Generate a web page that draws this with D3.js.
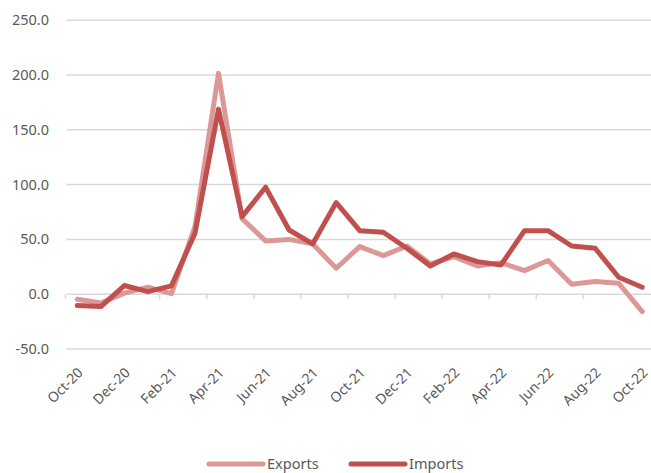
<!DOCTYPE html>
<html>
<head>
<meta charset="utf-8">
<script src="https://cdn.jsdelivr.net/npm/d3@7"></script>
<style>
  body { margin: 0; background: #ffffff; }
  #chart { width: 651px; height: 473px; }
  text { font-family: "Noto Sans", sans-serif; fill: #595959; }
</style>
</head>
<body>
<div id="chart"></div>
<script>
const months = ["Oct-20", "Nov-20", "Dec-20", "Jan-21", "Feb-21", "Mar-21", "Apr-21", "May-21",
  "Jun-21", "Jul-21", "Aug-21", "Sep-21", "Oct-21", "Nov-21", "Dec-21", "Jan-22", "Feb-22",
  "Mar-22", "Apr-22", "May-22", "Jun-22", "Jul-22", "Aug-22", "Sep-22", "Oct-22"];

const exportsVals = [-4.6, -8, 1, 6.4, 0.5, 61.7, 201.5, 69, 48.6, 50, 45.9, 23.7, 43.4, 35.2,
  44, 27.6, 34.3, 25.8, 28.8, 21.5, 30.7, 9.1, 11.5, 10, -15.9];

const importsVals = [-10.4, -11.3, 7.9, 2.4, 7.6, 55.6, 168.8, 70.8, 97.6, 58.6, 45.9, 83.6, 58,
  56.5, 41.9, 25.8, 36.7, 29.7, 26.7, 58, 58, 44, 41.9, 15.5, 6.4];

const yTicks = [-50, 0, 50, 100, 150, 200, 250];

const series = [
  { name: "Exports", values: exportsVals, color: "#dc9797" },
  { name: "Imports", values: importsVals, color: "#c0504d" }
];

const width = 651, height = 473;
const svg = d3.select("#chart").append("svg")
  .attr("width", width)
  .attr("height", height);

// Scales
const x = d3.scaleBand()
  .domain(months)
  .range([65.5, 654]);

const y = d3.scaleLinear()
  .domain([-50, 250])
  .range([349, 20.2]);

const cx = d => x(d) + x.bandwidth() / 2;

// Gridlines
svg.append("g")
  .selectAll("line")
  .data(yTicks)
  .enter()
  .append("line")
  .attr("x1", 66.5)
  .attr("x2", width)
  .attr("y1", d => y(d))
  .attr("y2", d => y(d))
  .attr("stroke", "#d9d9d9")
  .attr("stroke-width", 1.5);

// Y labels
svg.append("g")
  .selectAll("text")
  .data(yTicks)
  .enter()
  .append("text")
  .attr("x", 49)
  .attr("y", d => y(d))
  .attr("dy", "0.35em")
  .attr("text-anchor", "end")
  .attr("font-size", 14.5)
  .text(d => d.toFixed(1));

// Tick marks on the zero line, every other category
const tickMonths = months.filter((_, i) => i % 2 === 0);
svg.append("g")
  .selectAll("line")
  .data(tickMonths)
  .enter()
  .append("line")
  .attr("x1", d => x(d))
  .attr("x2", d => x(d))
  .attr("y1", y(0))
  .attr("y2", y(0) + 5)
  .attr("stroke", "#d9d9d9")
  .attr("stroke-width", 1.5);

// X labels
svg.append("g")
  .selectAll("text")
  .data(tickMonths)
  .enter()
  .append("text")
  .attr("transform", d => "translate(" + (cx(d) + 3) + "," + 370 + ") rotate(-45)")
  .attr("dy", "0.35em")
  .attr("text-anchor", "end")
  .attr("font-size", 14)
  .text(d => d);

// Lines
const line = d3.line()
  .x((_, i) => cx(months[i]))
  .y(d => y(d));

svg.append("g")
  .selectAll("path")
  .data(series)
  .enter()
  .append("path")
  .attr("d", d => line(d.values))
  .attr("fill", "none")
  .attr("stroke", d => d.color)
  .attr("stroke-width", 5)
  .attr("stroke-linejoin", "round")
  .attr("stroke-linecap", "round");

// Legend
const legendX = [209, 351];
const legend = svg.append("g")
  .selectAll("g")
  .data(series)
  .enter()
  .append("g")
  .attr("transform", (_, i) => "translate(" + legendX[i] + ",464)");

legend.append("line")
  .attr("x1", 0)
  .attr("x2", 54)
  .attr("stroke", d => d.color)
  .attr("stroke-width", 5)
  .attr("stroke-linecap", "round");

legend.append("text")
  .attr("x", 58)
  .attr("dy", "0.35em")
  .attr("font-size", 14.5)
  .text(d => d.name);
</script>
</body>
</html>
